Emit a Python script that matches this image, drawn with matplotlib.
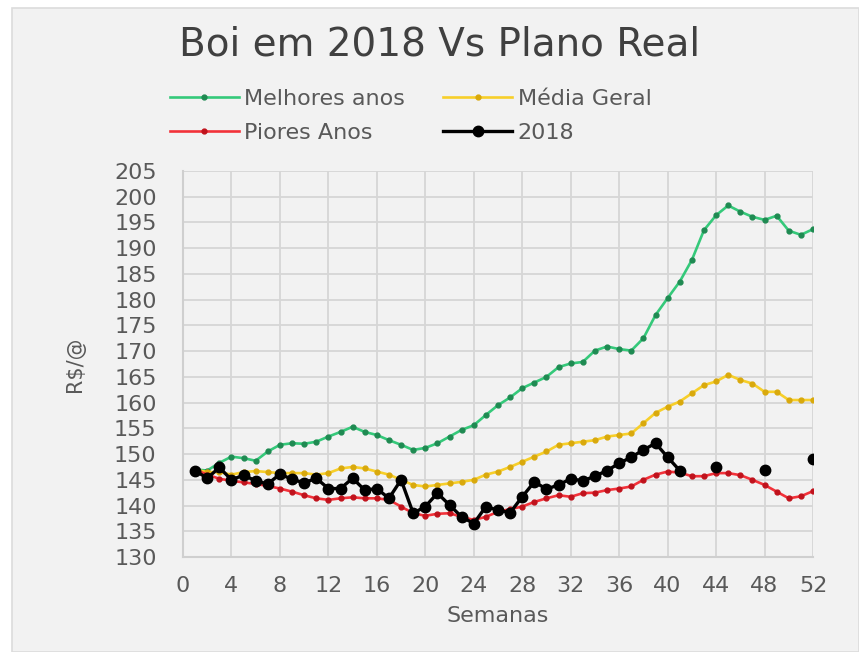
import numpy as np
import matplotlib
matplotlib.use('Agg')
import matplotlib.pyplot as plt
from matplotlib.patches import Rectangle

# Weekly cattle price (R$/@) - 2018 versus the Plano Real years
weeks = list(range(1, 53))

melhores_anos = [147.0, 146.8, 148.3, 149.5, 149.2, 148.7, 150.5, 151.8, 152.1, 152.0,
                 152.4, 153.4, 154.3, 155.3, 154.3, 153.7, 152.7, 151.8, 150.8, 151.2,
                 152.1, 153.4, 154.7, 155.6, 157.6, 159.5, 161.0, 162.8, 163.9, 165.0,
                 166.9, 167.6, 167.9, 170.1, 170.9, 170.4, 170.1, 172.5, 177.0, 180.3,
                 183.5, 187.7, 193.5, 196.4, 198.3, 197.1, 196.1, 195.5, 196.3, 193.4,
                 192.6, 193.7]

media_geral = [147.0, 146.5, 146.5, 146.0, 146.5, 146.7, 146.5, 146.3, 146.3, 146.3,
               146.0, 146.3, 147.2, 147.5, 147.2, 146.6, 146.0, 145.0, 144.0, 143.7,
               144.0, 144.3, 144.6, 145.0, 146.0, 146.6, 147.5, 148.5, 149.5, 150.5,
               151.8, 152.1, 152.4, 152.7, 153.4, 153.7, 154.0, 156.0, 158.0, 159.2,
               160.2, 161.8, 163.4, 164.1, 165.4, 164.4, 163.7, 162.1, 162.1, 160.5,
               160.5, 160.5]

piores_anos = [147.0, 146.0, 145.2, 144.8, 144.5, 144.2, 143.8, 143.3, 142.7, 142.0,
               141.4, 141.1, 141.4, 141.6, 141.4, 141.4, 141.1, 139.8, 138.5, 138.0,
               138.4, 138.5, 137.8, 137.2, 137.8, 138.8, 139.3, 139.8, 140.7, 141.4,
               142.0, 141.7, 142.4, 142.5, 143.0, 143.3, 143.7, 145.0, 146.0, 146.6,
               146.4, 145.7, 145.7, 146.3, 146.3, 145.9, 145.0, 144.0, 142.7, 141.4,
               141.8, 142.8]

nan = np.nan
ano_2018 = [146.8, 145.3, 147.4, 145.0, 145.9, 144.8, 144.2, 146.1, 145.1, 144.4,
            145.3, 143.3, 143.3, 145.3, 143.0, 143.3, 141.4, 145.0, 138.5, 139.8,
            142.4, 140.1, 137.8, 136.5, 139.8, 139.1, 138.6, 141.7, 144.6, 143.2,
            144.0, 145.2, 144.8, 145.7, 146.8, 148.2, 149.4, 150.8, 152.1, 149.4,
            146.8, nan, nan, 147.4, nan, nan, nan, 147.0, nan, nan,
            nan, 149.0]

x_ticks = [0, 4, 8, 12, 16, 20, 24, 28, 32, 36, 40, 44, 48, 52]
y_ticks = [130, 135, 140, 145, 150, 155, 160, 165, 170, 175, 180, 185, 190, 195, 200, 205]

W, H = 859, 652
text_color = '#595959'
plt.rcParams['font.family'] = ['DejaVu Sans']

fig = plt.figure(figsize=(W / 100, H / 100), dpi=100)
fig.patch.set_facecolor('white')
fig.patches.append(Rectangle((12 / W, 0), 1 - 12 / W, 1 - 8 / H, transform=fig.transFigure,
                             facecolor='#f2f2f2', edgecolor='#dcdcdc', linewidth=1.2, zorder=-5))

ax = fig.add_axes([183 / W, 1 - 557 / H, 630 / W, 386 / H])
ax.set_facecolor('none')

l1, = ax.plot(weeks, melhores_anos, color='#35c97a', lw=1.9, marker='o', ms=3.5,
              mfc='#1f8a52', mec='#1f8a52', label='Melhores anos', zorder=3)
l2, = ax.plot(weeks, media_geral, color='#f7cf2a', lw=1.9, marker='o', ms=3.5,
              mfc='#d9a90c', mec='#d9a90c', label='Média Geral', zorder=3)
l3, = ax.plot(weeks, piores_anos, color='#f2323a', lw=1.9, marker='o', ms=3.5,
              mfc='#c0121c', mec='#c0121c', label='Piores Anos', zorder=3)
l4, = ax.plot(weeks, ano_2018, color='black', lw=2.4, marker='o', ms=7.5,
              label='2018', zorder=4)

ax.set_xlim(0, 52)
ax.set_ylim(130, 205)
ax.set_xticks(x_ticks)
ax.set_yticks(y_ticks)
ax.grid(True, color='#d6d6d6', linewidth=1.3, zorder=0)
ax.set_axisbelow(True)
for side in ['top', 'right']:
    ax.spines[side].set_visible(False)
for side in ['left', 'bottom']:
    ax.spines[side].set_color('#cfcfcf')
    ax.spines[side].set_linewidth(1.5)

ax.tick_params(axis='x', length=0, pad=14, labelsize=16, labelcolor=text_color)
ax.tick_params(axis='y', length=0, pad=19, labelsize=16, labelcolor=text_color)

ax.set_xlabel('Semanas', fontsize=16, color=text_color, va='center')
ax.xaxis.set_label_coords(0.5, -(616 - 557) / 386)
ax.set_ylabel('R$/@', fontsize=15, color=text_color, va='center')
ax.yaxis.set_label_coords(-(183 - 75) / 630, 0.5)

fig.text(440 / W, 1 - 45 / H, 'Boi em 2018 Vs Plano Real', ha='center', va='center',
         fontsize=28, color='#404040')

fig.legend([l1, l3, l2, l4], ['Melhores anos', 'Piores Anos', 'Média Geral', '2018'],
           ncol=2, loc='upper left', bbox_to_anchor=(170 / W, 1 - 89 / H),
           frameon=False, borderpad=0, borderaxespad=0, fontsize=16,
           handlelength=3.1, handletextpad=0.25, columnspacing=1.7, labelspacing=0.62,
           labelcolor=text_color)

fig.savefig('out.png', dpi=100, facecolor=fig.get_facecolor())
